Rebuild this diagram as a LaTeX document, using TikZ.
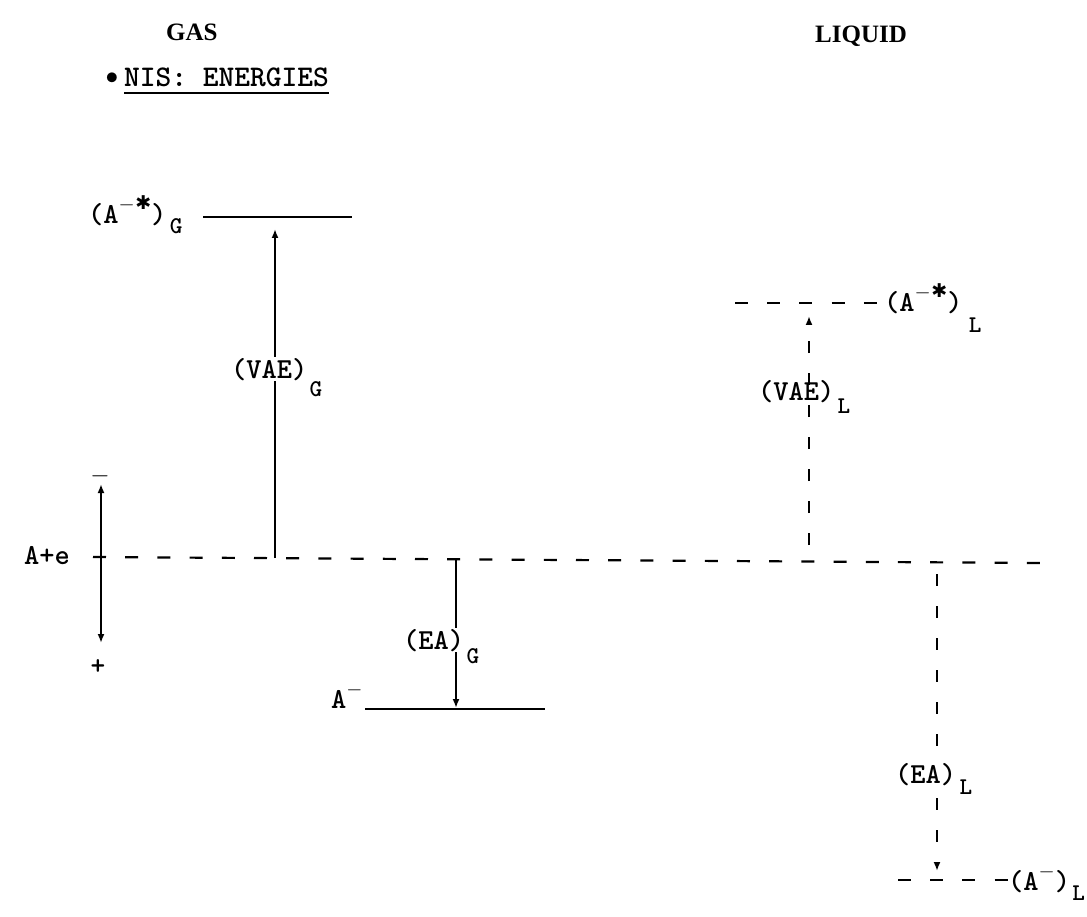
\documentclass[tikz,border=0pt]{standalone}
\usepackage{fontspec}
\newfontfamily\ttlfont{Liberation Serif}
\newfontfamily\djv{DejaVu Sans}
\usetikzlibrary{arrows.meta}
\newcommand\mysup[1]{\raisebox{13pt}{\fontsize{22}{22}\selectfont #1}}
\newcommand\exstar{\kern0.5pt\raisebox{1pt}{\djv\fontsize{19}{19}\selectfont ✱}}
\begin{document}
\begin{tikzpicture}[x=1pt,y=-1pt,
  lab/.style={font=\ttfamily\bfseries\fontsize{29}{30}\selectfont, inner sep=0pt, anchor=base west},
  sub/.style={font=\ttfamily\bfseries\fontsize{24}{24}\selectfont, inner sep=0pt, anchor=base west},
  ttl/.style={font=\ttlfont\bfseries\fontsize{25}{26}\selectfont, inner sep=0pt, anchor=base west},
  gap/.style={fill=white, inner sep=1pt},
  lvl/.style={line width=2pt},
  dlvl/.style={line width=2.2pt, dash pattern=on 13pt off 19.2pt},
  tip/.style={-{Latex[length=9pt,width=7pt]}},
  arr/.style={line width=1.8pt, tip},
  arrbi/.style={line width=1.8pt, {Latex[length=9pt,width=7pt]}-{Latex[length=9pt,width=7pt]}},
  darr/.style={line width=2pt, dash pattern=on 12pt off 20pt, tip}
]
\useasboundingbox (0,0) rectangle (1087,917);

% titles
\node[ttl] (gas) at (166,41) {GAS};
\node[ttl] (liquid) at (815,43) {LIQUID};
\node[inner sep=0pt, font=\fontsize{44}{44}\selectfont] (bul) at (112,81) {\textbullet};
\node[lab, font=\ttfamily\bfseries\fontsize{30}{32}\selectfont] (nis) at (124,87) {NIS: ENERGIES};
\draw[line width=1.8pt] ([yshift=-6pt]nis.base west) -- ([yshift=-6pt]nis.base east);

% gas excited level
\node[lab] (AsG) at (88,224) {(A\mysup{$-$\exstar})};
\node[sub] (AsGs) at ([xshift=3pt,yshift=-10pt]AsG.base east) {G};
\coordinate (gsL) at (203,217);
\coordinate (gsR) at (352,217);
\draw[lvl] (gsL) -- (gsR);

% reference level A+e
\coordinate (dL) at (93,557);
\coordinate (dR) at (1040,563);
\draw[dlvl] (dL) -- (dR);
\node[lab] (Ae) at (24,564) {A+e};

% sign bracket
\coordinate (bT) at (101,484);
\coordinate (bB) at (101,643);
\draw[arrbi] (bB) -- (bT);
\node[inner sep=0pt, font=\fontsize{24}{24}\selectfont] (minus) at (100,476) {$-$};
\node[inner sep=0pt, font=\ttfamily\bfseries\fontsize{28}{28}\selectfont] (plus) at (98,667) {+};

% VAE gas
\coordinate (vgB) at (275,558);
\coordinate (vgT) at (275,229);
\draw[arr] (vgB) -- (vgT);
\node[lab, gap] (vaeG) at (230,378) {(VAE)};
\node[sub] (vaeGs) at ([xshift=1pt,yshift=-18pt]vaeG.base east) {G};

% EA gas
\coordinate (egT) at (456,559);
\coordinate (egB) at (456,708);
\draw[arr] (egT) -- (egB);
\node[lab, gap] (eaG) at (402,649) {(EA)};
\node[sub] (eaGs) at ([xshift=1pt,yshift=-14pt]eaG.base east) {G};

% anion gas level
\coordinate (amL) at (365,709);
\coordinate (amR) at (545,709);
\draw[lvl] (amL) -- (amR);
\node[lab] (Am) at (331,708) {A\mysup{$-$}};

% liquid excited level
\coordinate (lsL) at (735,303);
\coordinate (lsR) at (877,303);
\draw[dlvl] (lsL) -- (lsR);
\node[lab] (AsL) at (884,312) {(A\mysup{$-$\exstar})};
\node[sub] (AsLs) at ([xshift=6pt,yshift=-20pt]AsL.base east) {L};

% VAE liquid
\coordinate (vlB) at (809,561);
\coordinate (vlT) at (809,316);
\draw[darr, dash phase=16pt] (vlB) -- (vlT);
\node[lab] (vaeL) at (758,400) {(VAE)};
\node[sub] (vaeLs) at ([xshift=3pt,yshift=-13pt]vaeL.base east) {L};

% EA liquid
\coordinate (elT) at (937,562);
\coordinate (elB) at (937,871);
\draw[darr, dash phase=20pt] (elT) -- (elB);
\node[lab, gap] (eaL) at (894,783) {(EA)};
\node[sub] (eaLs) at ([xshift=2pt,yshift=-11pt]eaL.base east) {L};

% anion liquid level
\coordinate (alL) at (898,880);
\coordinate (alR) at (1008,880);
\draw[dlvl] (alL) -- (alR);
\node[lab] (AmL) at (1008,890) {(A\mysup{$-$})};
\node[sub] (AmLs) at ([xshift=2pt,yshift=-10pt]AmL.base east) {L};
\end{tikzpicture}
\end{document}
